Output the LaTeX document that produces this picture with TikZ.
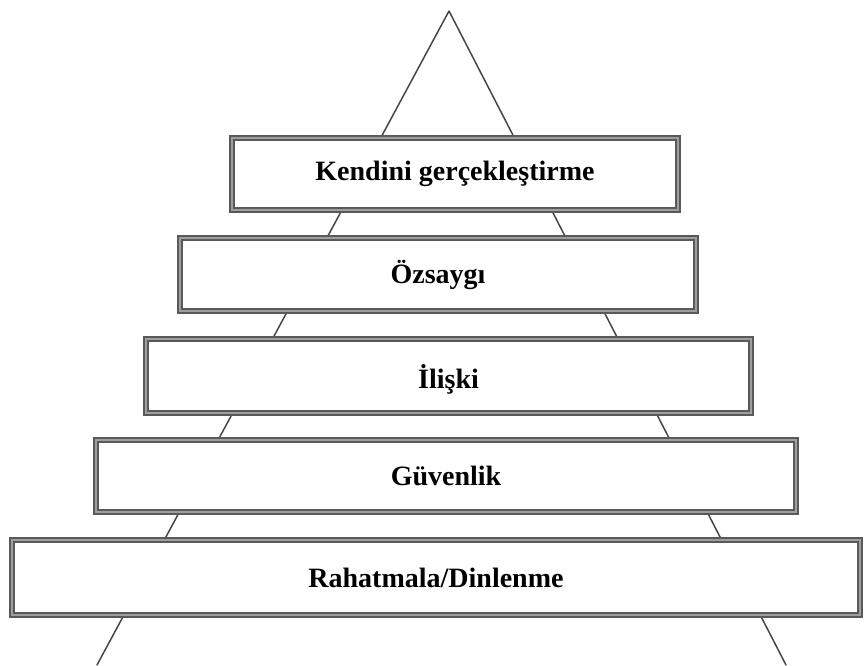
\documentclass[tikz,border=0pt]{standalone}
\usepackage{fontspec}
\setmainfont{Liberation Serif}
\begin{document}
\begin{tikzpicture}[x=1pt,y=-1pt,
  edge/.style={draw=black!72, line width=1.5pt, line cap=round, line join=round},
  tier/.style={rectangle, draw=black!65, line width=1.8pt, double=black!38,
    double distance=2.6pt, fill=white, outer sep=0pt, inner sep=0pt,
    font=\fontsize{28}{30}\selectfont\bfseries},
]
\useasboundingbox (0,0) rectangle (864,665);
\fill[white] (0,0) rectangle (864,665);

% outline of the pyramid
\coordinate (apex) at (449,11);
\coordinate (baseL) at (97,665);
\coordinate (baseR) at (786,665);
\draw[edge] (baseL) -- (apex) -- (baseR);

% tiers (outer size minus the 6.2 of the double rule)
\node[tier, minimum width=445.8, minimum height=71.8] (t1) at (455,174) {Kendini gerçekleştirme};
\node[tier, minimum width=515.8, minimum height=72.8] (t2) at (438,274.5) {Özsaygı};
\node[tier, minimum width=604.8, minimum height=73.8, text depth=0pt,
      yshift=-1pt] (t3) at (448.5,375) {İlişki};
\node[tier, minimum width=699.8, minimum height=71.8] (t4) at (446,476) {Güvenlik};
\node[tier, minimum width=847.8, minimum height=74.8] (t5) at (436,577.5) {Rahatmala/Dinlenme};
\end{tikzpicture}
\end{document}
